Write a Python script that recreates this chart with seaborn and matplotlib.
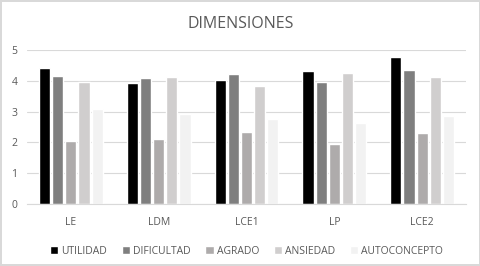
import pandas as pd
import numpy as np
import matplotlib.pyplot as plt
import seaborn as sns

# Data
grupos = ["LE", "LDM", "LCE1", "LP", "LCE2"]
dimensiones = ["UTILIDAD", "DIFICULTAD", "AGRADO", "ANSIEDAD", "AUTOCONCEPTO"]
utilidad = [4.43, 3.93, 4.02, 4.32, 4.77]
dificultad = [4.16, 4.09, 4.22, 3.95, 4.34]
agrado = [2.06, 2.11, 2.35, 1.95, 2.31]
ansiedad = [3.97, 4.11, 3.84, 4.26, 4.11]
autoconcepto = [3.08, 2.93, 2.75, 2.64, 2.86]
colores = ["#000000", "#7f7f7f", "#aeaaaa", "#d0cece", "#f2f2f2"]

rows = []
for dim, vals in zip(dimensiones, [utilidad, dificultad, agrado, ansiedad, autoconcepto]):
    for g, v in zip(grupos, vals):
        rows.append({"Grupo": g, "Dimension": dim, "Valor": v})
df = pd.DataFrame(rows)

sns.set_style("white")
plt.rcParams["font.family"] = ["Open Sans", "DejaVu Sans"]

fig = plt.figure(figsize=(4.81, 2.66), dpi=100, linewidth=1.5, edgecolor="#d9d9d9")
ax = fig.add_axes([0.056, 0.233, 0.913, 0.579])

sns.barplot(data=df, x="Grupo", y="Valor", hue="Dimension", order=grupos,
            hue_order=dimensiones, palette=colores, width=0.75, gap=0.15,
            ax=ax, legend=True)

ax.set_ylim(0, 5)
ax.set_yticks(range(0, 6))
ax.yaxis.grid(True, color="#d9d9d9", linewidth=0.8)
ax.set_axisbelow(True)
for s in ["top", "right", "left"]:
    ax.spines[s].set_visible(False)
ax.spines["bottom"].set_color("#d9d9d9")
ax.tick_params(axis="both", length=0, labelsize=7.5, colors="#595959")
ax.tick_params(axis="x", pad=9)
ax.tick_params(axis="y", pad=7)
ax.set_xlabel("")
ax.set_ylabel("")

fig.suptitle("DIMENSIONES", y=0.94, fontsize=11.5, color="#595959")

ax.legend(loc="upper center", bbox_to_anchor=(0.5, -0.21), ncol=5, frameon=False,
          fontsize=7.5, labelcolor="#595959", handlelength=0.8, handleheight=0.8,
          handletextpad=0.3, columnspacing=1.4)

fig.savefig("out.png", dpi=100)
